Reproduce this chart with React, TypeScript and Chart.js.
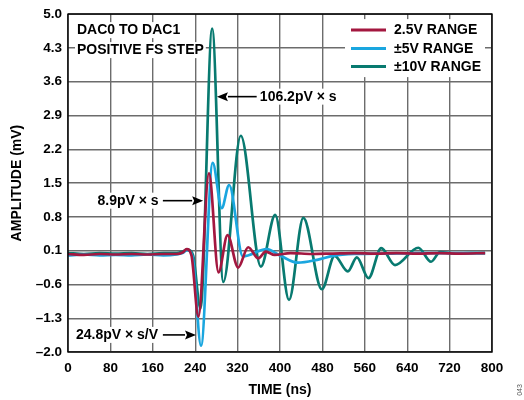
import React, { useEffect, useRef } from "react";
import { Chart, registerables } from "chart.js";

Chart.register(...registerables);

// ---- data ----
const xTicks = [0, 80, 160, 240, 320, 400, 480, 560, 640, 720, 800];
const yTicks = [-2.0, -1.3, -0.6, 0.1, 0.8, 1.5, 2.2, 2.9, 3.6, 4.3, 5.0];
const seriesLabels = ["2.5V RANGE", "\u00b15V RANGE", "\u00b110V RANGE"];
const seriesColors = ["#a3173f", "#1aa6df", "#087a70"];

const redT = [0, 30, 60, 90, 120, 150, 180, 205, 216, 224, 233, 246, 266, 284, 301, 321, 340, 359, 373, 390, 420, 460, 500, 540, 580, 620, 660, 700, 740, 787];
const redV = [0.03, 0.01, 0.03, 0.02, 0.03, 0.02, 0.03, 0.03, 0.06, 0.13, 0.0, -1.27, 1.70, -0.35, 0.42, -0.25, 0.17, -0.06, 0.08, 0.01, 0.05, 0.03, 0.04, 0.05, 0.04, 0.05, 0.04, 0.05, 0.04, 0.05];

const blueT = [0, 30, 60, 90, 120, 150, 180, 205, 216, 225, 235, 251, 273, 290, 304, 330, 375, 400, 434, 470, 500, 540, 600, 660, 720, 787];
const blueV = [0.0, 0.02, 0.0, 0.01, 0.0, 0.02, 0.0, 0.02, 0.05, 0.11, -0.02, -1.87, 1.92, 0.98, 1.46, -0.02, 0.13, 0.0, -0.15, -0.09, -0.01, 0.03, 0.04, 0.05, 0.05, 0.05];

const greenT = [0, 30, 60, 90, 120, 150, 180, 205, 216, 226, 236, 250, 272, 293, 326, 364, 391, 417, 444, 479, 503, 528, 545, 567, 591, 617, 661, 685, 702, 730, 760, 787];
const greenV = [0.05, 0.03, 0.05, 0.04, 0.05, 0.03, 0.05, 0.05, 0.08, 0.12, 0.0, -1.1, 4.70, -0.55, 2.48, -0.23, 0.84, -0.92, 0.78, -0.70, -0.01, -0.33, -0.04, -0.47, 0.15, -0.2, 0.16, -0.13, 0.07, 0.04, 0.05, 0.05];

const FONT = "'Liberation Sans', Arial, Helvetica, sans-serif";

function fmtY(v: number) {
  const s = Math.abs(v).toFixed(1);
  return v < -1e-9 ? "\u2013" + s : s;
}

function pts(t: number[], v: number[]) {
  return t.map((x, i) => ({ x, y: v[i] }));
}

const overlay = {
  id: "overlay",
  afterDraw(chart: any) {
    const { ctx, chartArea: a } = chart;
    const xs = chart.scales.x;
    const ys = chart.scales.y;
    ctx.save();

    // frame
    ctx.strokeStyle = "#000";
    ctx.lineWidth = 1.4;
    ctx.strokeRect(a.left, a.top, a.right - a.left, a.bottom - a.top);

    ctx.font = `bold 14px ${FONT}`;
    ctx.textBaseline = "middle";

    const label = (text: string, x0: number, yc: number, align: "left" | "right") => {
      const w = ctx.measureText(text).width;
      const left = align === "left" ? x0 : x0 - w;
      ctx.fillStyle = "#fff";
      ctx.fillRect(left - 2, yc - 8, w + 4, 16);
      ctx.fillStyle = "#000";
      ctx.textAlign = "left";
      ctx.fillText(text, left, yc + 0.5);
    };

    const arrow = (x1: number, x2: number, yv: number) => {
      const dir = Math.sign(x2 - x1);
      const hl = 11;
      ctx.strokeStyle = "#000";
      ctx.fillStyle = "#000";
      ctx.lineWidth = 1.6;
      ctx.beginPath();
      ctx.moveTo(x1, yv);
      ctx.lineTo(x2 - dir * hl, yv);
      ctx.stroke();
      ctx.beginPath();
      ctx.moveTo(x2, yv);
      ctx.lineTo(x2 - dir * hl, yv - 4.5);
      ctx.lineTo(x2 - dir * (hl - 2), yv);
      ctx.lineTo(x2 - dir * hl, yv + 4.5);
      ctx.closePath();
      ctx.fill();
    };

    // top-left title
    label("DAC0 TO DAC1", a.left + 9, a.top + 16, "left");
    label("POSITIVE FS STEP", a.left + 9, a.top + 36, "left");

    // legend
    ctx.fillStyle = "#fff";
    ctx.fillRect(345, a.top + 5, 140, 58);
    const rows = [a.top + 16, a.top + 34.5, a.top + 52.5];
    seriesLabels.forEach((lab, i) => {
      ctx.strokeStyle = seriesColors[i];
      ctx.lineWidth = 3;
      ctx.beginPath();
      ctx.moveTo(351, rows[i]);
      ctx.lineTo(386, rows[i]);
      ctx.stroke();
      ctx.fillStyle = "#000";
      ctx.textAlign = "left";
      ctx.fillText(lab, 394, rows[i] + 0.5);
    });

    // annotations
    const y1 = ys.getPixelForValue(3.29);
    label("106.2pV \u00d7 s", xs.getPixelForValue(362), y1, "left");
    arrow(xs.getPixelForValue(356), xs.getPixelForValue(281), y1);

    const y2 = ys.getPixelForValue(1.135);
    label("8.9pV \u00d7 s", xs.getPixelForValue(171), y2, "right");
    arrow(xs.getPixelForValue(179), xs.getPixelForValue(255), y2);

    const y3 = ys.getPixelForValue(-1.646);
    label("24.8pV \u00d7 s/V", xs.getPixelForValue(170), y3, "right");
    arrow(xs.getPixelForValue(179), xs.getPixelForValue(241.5), y3);

    // axis titles
    ctx.fillStyle = "#000";
    ctx.textAlign = "center";
    ctx.font = `bold 14px ${FONT}`;
    ctx.fillText("TIME (ns)", (a.left + a.right) / 2, 390);
    ctx.save();
    ctx.translate(17, (a.top + a.bottom) / 2);
    ctx.rotate(-Math.PI / 2);
    ctx.fillText("AMPLITUDE (mV)", 0, 0);
    ctx.restore();

    // tiny figure code
    ctx.save();
    ctx.translate(520, 390);
    ctx.rotate(-Math.PI / 2);
    ctx.font = `7px ${FONT}`;
    ctx.fillStyle = "#555";
    ctx.fillText("043", 0, 0);
    ctx.restore();

    ctx.restore();
  },
};

export default function App() {
  const ref = useRef<HTMLCanvasElement>(null);

  useEffect(() => {
    const tickFont = { family: FONT, size: 13.5, weight: "bold" as const };
    const gridCfg = { color: "#6c6c6c", lineWidth: 1.4, drawTicks: false };
    const chart = new Chart(ref.current as HTMLCanvasElement, {
      type: "line",
      data: {
        datasets: [
          { label: seriesLabels[0], data: pts(redT, redV), borderColor: seriesColors[0] },
          { label: seriesLabels[1], data: pts(blueT, blueV), borderColor: seriesColors[1] },
          { label: seriesLabels[2], data: pts(greenT, greenV), borderColor: seriesColors[2] },
        ].map((d) => ({
          ...d,
          borderWidth: 2.7,
          pointRadius: 0,
          cubicInterpolationMode: "monotone" as const,
          fill: false,
        })),
      },
      options: {
        responsive: false,
        animation: false,
        devicePixelRatio: 1,
        layout: { padding: { top: 14, right: 32, bottom: 0, left: 0 } },
        plugins: { legend: { display: false }, tooltip: { enabled: false } },
        scales: {
          x: {
            type: "linear",
            min: 0,
            max: 800,
            afterBuildTicks: (s: any) => {
              s.ticks = xTicks.map((v) => ({ value: v }));
            },
            afterFit: (s: any) => {
              s.height = 48;
            },
            grid: gridCfg,
            border: { display: false },
            ticks: { padding: 8, color: "#000", font: tickFont, maxRotation: 0, autoSkip: false },
          },
          y: {
            type: "linear",
            min: -2,
            max: 5,
            afterBuildTicks: (s: any) => {
              s.ticks = yTicks.map((v) => ({ value: v }));
            },
            afterFit: (s: any) => {
              s.width = 68;
            },
            grid: gridCfg,
            border: { display: false },
            ticks: {
              padding: 6,
              color: "#000",
              font: tickFont,
              autoSkip: false,
              callback: (v: any) => fmtY(Number(v)),
            },
          },
        },
      },
      plugins: [overlay],
    });
    return () => chart.destroy();
  }, []);

  return (
    <div style={{ position: "absolute", left: 0, top: 0, width: 524, height: 400, background: "#fff" }}>
      <canvas ref={ref} width={524} height={400} style={{ display: "block", width: 524, height: 400 }} />
    </div>
  );
}
